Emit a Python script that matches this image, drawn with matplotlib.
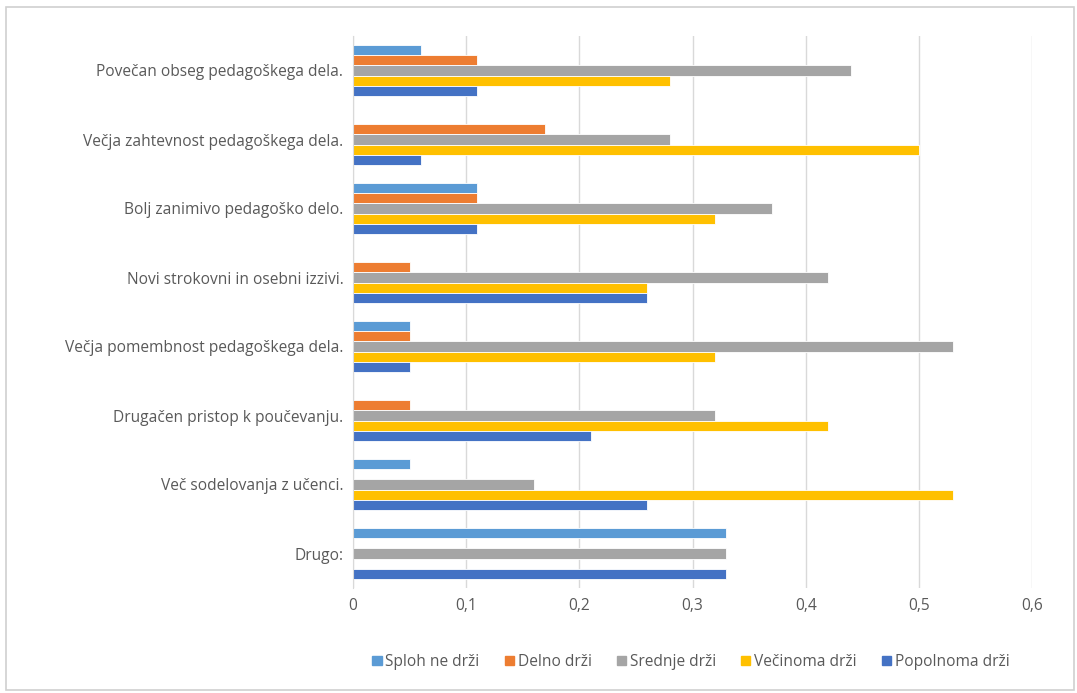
import matplotlib.pyplot as plt
import matplotlib.patches as mpatches
import numpy as np

categories = [
    "Povečan obseg pedagoškega dela.",
    "Večja zahtevnost pedagoškega dela.",
    "Bolj zanimivo pedagoško delo.",
    "Novi strokovni in osebni izzivi.",
    "Večja pomembnost pedagoškega dela.",
    "Drugačen pristop k poučevanju.",
    "Več sodelovanja z učenci.",
    "Drugo:",
]
series_names = ["Sploh ne drži", "Delno drži", "Srednje drži", "Večinoma drži", "Popolnoma drži"]
sploh_ne = [0.06, 0.00, 0.11, 0.00, 0.05, 0.00, 0.05, 0.33]
delno = [0.11, 0.17, 0.11, 0.05, 0.05, 0.05, 0.00, 0.00]
srednje = [0.44, 0.28, 0.37, 0.42, 0.53, 0.32, 0.16, 0.33]
vecinoma = [0.28, 0.50, 0.32, 0.26, 0.32, 0.42, 0.53, 0.00]
popolnoma = [0.11, 0.06, 0.11, 0.26, 0.05, 0.21, 0.26, 0.33]
colors = ["#5B9BD5", "#ED7D31", "#A5A5A5", "#FFC000", "#4472C4"]
x_ticks = [0, 0.1, 0.2, 0.3, 0.4, 0.5, 0.6]
x_tick_labels = ["0", "0,1", "0,2", "0,3", "0,4", "0,5", "0,6"]

plt.rcParams["font.family"] = ["Open Sans", "DejaVu Sans"]
text_color = "#595959"
fs = 11.2

fig = plt.figure(figsize=(10.77, 6.93), dpi=100)
fig.patches.append(mpatches.Rectangle((6 / 1077, 3 / 693), 1068 / 1077, 683 / 693,
                                      transform=fig.transFigure, fill=False,
                                      edgecolor="#D0D0D0", linewidth=1.2))
ax = fig.add_axes([353 / 1077, 1 - 588 / 693, 679 / 1077, 552 / 693])

all_series = [sploh_ne, delno, srednje, vecinoma, popolnoma]
n = len(all_series)
bar_h = 0.148
y = np.arange(len(categories))
for i, (vals, col, name) in enumerate(zip(all_series, colors, series_names)):
    offset = (i - (n - 1) / 2) * bar_h
    ax.barh(y + offset, vals, height=bar_h, color=col, edgecolor="white",
            linewidth=0.6, label=name, zorder=3)

ax.set_ylim(len(categories) - 0.5, -0.5)
ax.set_xlim(0, 0.6)
ax.set_yticks(y)
ax.set_yticklabels(categories, fontsize=fs, color=text_color)
ax.set_xticks(x_ticks)
ax.set_xticklabels(x_tick_labels, fontsize=fs, color=text_color)
ax.tick_params(axis="both", length=0)
ax.tick_params(axis="y", pad=7)
ax.tick_params(axis="x", pad=7)
ax.grid(axis="x", color="#D9D9D9", linewidth=1, zorder=0)
for s in ["top", "right", "bottom"]:
    ax.spines[s].set_visible(False)
ax.spines["left"].set_color("#D9D9D9")
ax.spines["left"].set_zorder(4)

handles = [mpatches.Patch(color=c, label=nm) for c, nm in zip(colors, series_names)]
fig.legend(handles=handles, loc="center", bbox_to_anchor=(691 / 1077, 1 - 662 / 693),
           ncol=5, frameon=False, fontsize=fs, handlelength=0.6, handleheight=0.6,
           handletextpad=0.25, columnspacing=1.6, labelcolor=text_color)

fig.savefig("out.png", dpi=100)
